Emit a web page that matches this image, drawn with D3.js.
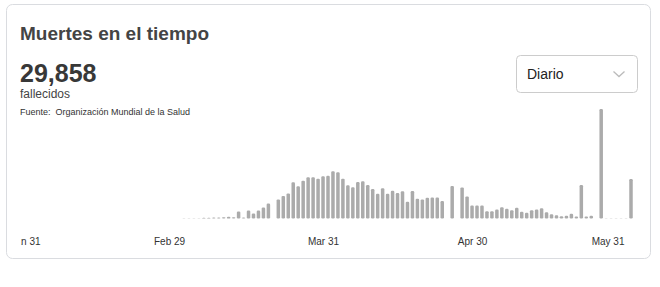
<!DOCTYPE html>
<html>
<head>
<meta charset="utf-8">
<script src="https://d3js.org/d3.v7.min.js"></script>
<style>
  body { margin: 0; background: #fff; }
  svg { font-family: "Liberation Sans", Arial, sans-serif; }
</style>
</head>
<body>
<script>
// daily deaths, one value per day starting at firstDay (null = no report)
const firstDay = "2020-03-03";
const deaths = [
  // March 3 - 31
  5, 4, 6, 5, 14, 14, 19, 19, 25, 33, 25, 136, 19, 155, 97, 155, 213, 291, null,
  369, 437, 485, 698, 621, 731, 795, 795, 770, 815,
  // April
  825, 912, 892, 770, 640, 605, 704, 718, 646, 568,
  479, 582, 479, 537, 491, 524, 324, 530, 382, 369,
  402, 407, 407, 336, null, 630, null, 601, 427, 252,
  // May
  252, 252, 142, 142, 175, 219, 188, 161, 208, 130,
  111, 161, 175, 198, 120, 83, 64, 45, 52, 91,
  39, 646, 39, 52, null, 2115, 6, 6, 6, 6, 6,
  // June 1
  762
];
const tickDates = ["2020-01-31", "2020-02-29", "2020-03-31", "2020-04-30", "2020-05-31"];
const xDomain = ["2020-01-31", "2020-06-01"];
const totalText = "29,858";

const parse = d3.utcParse("%Y-%m-%d");
const start = parse(firstDay);
const data = deaths.map((v, i) => ({ date: d3.utcDay.offset(start, i), value: v }));

const W = 660, H = 287;
const svg = d3.select("body").append("svg")
  .attr("width", W).attr("height", H);

// card
svg.append("rect")
  .attr("x", 6.5).attr("y", 4.5)
  .attr("width", 644).attr("height", 254)
  .attr("rx", 6)
  .attr("fill", "#fff")
  .attr("stroke", "#dadce0");

// header texts
svg.append("text").attr("x", 20).attr("y", 39.5)
  .style("font-size", "19px").style("font-weight", "bold").style("fill", "#444")
  .text("Muertes en el tiempo");
svg.append("text").attr("x", 20).attr("y", 82)
  .style("font-size", "25px").style("font-weight", "bold").style("fill", "#383838")
  .text(totalText);
svg.append("text").attr("x", 20).attr("y", 98)
  .style("font-size", "12px").style("fill", "#444")
  .text("fallecidos");
svg.append("text").attr("x", 20).attr("y", 115)
  .style("font-size", "9px").style("fill", "#333")
  .text("Fuente:\u00a0 Organización Mundial de la Salud");

// dropdown
svg.append("rect")
  .attr("x", 516.5).attr("y", 55.5)
  .attr("width", 121).attr("height", 37)
  .attr("rx", 4)
  .attr("fill", "#fff").attr("stroke", "#ccc");
svg.append("text").attr("x", 527).attr("y", 79)
  .style("font-size", "14px").style("fill", "#222")
  .text("Diario");
svg.append("polyline")
  .attr("points", "613.5,71.5 619,76.5 624.5,71.5")
  .attr("fill", "none").attr("stroke", "#bbb").attr("stroke-width", 1.3);

// scales
const x = d3.scaleUtc()
  .domain(xDomain.map(parse))
  .range([25, 631]);
const y = d3.scaleLinear()
  .domain([0, d3.max(deaths)])
  .range([218.5, 109]);

const barW = 3.5;
svg.append("g")
  .selectAll("rect")
  .data(data.filter(d => d.value !== null))
  .join("rect")
  .attr("x", d => x(d.date) - barW / 2)
  .attr("y", d => y(d.value))
  .attr("width", barW)
  .attr("height", d => y(0) - y(d.value))
  .attr("rx", 1.2)
  .attr("fill", "#ababab");

// x axis
svg.append("clipPath").attr("id", "axclip")
  .append("rect").attr("x", 21).attr("y", 0).attr("width", 619).attr("height", H);

const axis = svg.append("g")
  .attr("transform", "translate(0,230)")
  .attr("clip-path", "url(#axclip)")
  .call(d3.axisBottom(x)
    .tickValues(tickDates.map(parse))
    .tickFormat(d3.utcFormat("%b %-d"))
    .tickSize(0)
    .tickPadding(8));
axis.select(".domain").remove();
axis.selectAll("text")
  .style("font-size", "10px")
  .style("font-family", "'Liberation Sans', Arial, sans-serif")
  .style("fill", "#333");

// keep the last label inside the card
axis.selectAll(".tick").each(function(d) {
  const t = d3.select(this).select("text");
  const w = t.node().getComputedTextLength();
  const cx = x(d);
  if (cx + w / 2 > 624) t.attr("x", 624 - w / 2 - cx);
});
</script>
</body>
</html>
